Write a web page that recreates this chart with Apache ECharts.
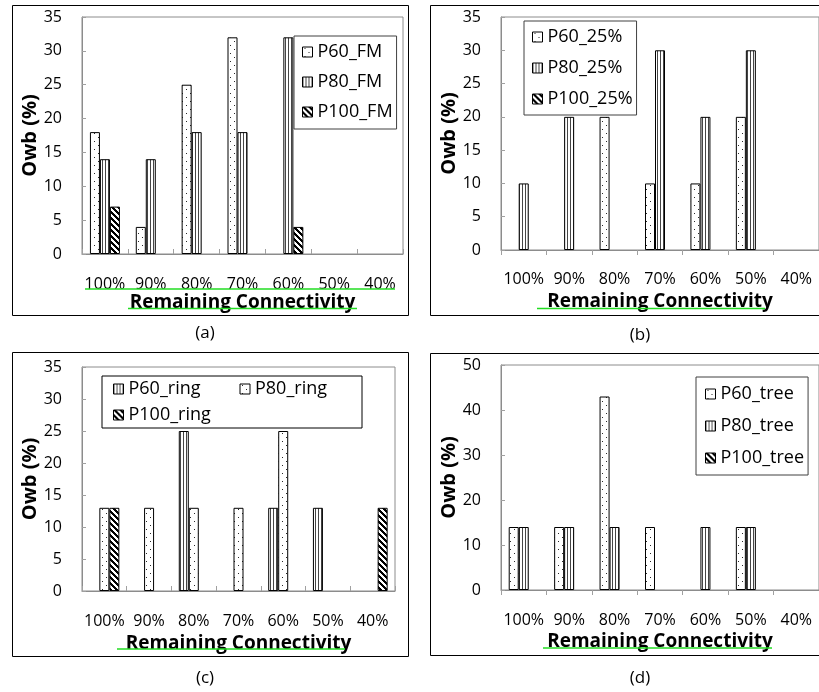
<!DOCTYPE html>
<html><head><meta charset="utf-8">
<script src="https://cdn.jsdelivr.net/npm/echarts@6/dist/echarts.min.js"></script>
<style>html,body{margin:0;padding:0;background:#fff}#c{width:819px;height:692px}</style>
</head><body><div id="c"></div>
<script>
// ---- data ----
const categories = ['100%', '90%', '80%', '70%', '60%', '50%', '40%'];

const namesA = ['P60_FM', 'P80_FM', 'P100_FM'];
const p60FM  = [18, 4, 25, 32, 0, 0, 0];
const p80FM  = [14, 14, 18, 18, 32, 0, 0];
const p100FM = [7, 0, 0, 0, 4, 0, 0];

const namesB = ['P60_25%', 'P80_25%', 'P100_25%'];
const p60_25  = [0, 0, 20, 10, 10, 20, 0];
const p80_25  = [10, 20, 0, 30, 20, 30, 0];
const p100_25 = [0, 0, 0, 0, 0, 0, 0];

const namesC = ['P60_ring', 'P80_ring', 'P100_ring'];
const p60Ring  = [0, 0, 25, 0, 13, 13, 0];
const p80Ring  = [13, 13, 13, 13, 25, 0, 0];
const p100Ring = [13, 0, 0, 0, 0, 0, 13];

const namesD = ['P60_tree', 'P80_tree', 'P100_tree'];
const p60Tree  = [14, 14, 43, 14, 0, 14, 0];
const p80Tree  = [14, 14, 14, 0, 14, 14, 0];
const p100Tree = [0, 0, 0, 0, 0, 0, 0];

const yTicksABC = { min: 0, max: 35, interval: 5 };
const yTicksD = { min: 0, max: 50, interval: 10 };
const captions = ['(a)', '(b)', '(c)', '(d)'];
const xTitle = 'Remaining Connectivity';
const yTitle = 'Owb (%)';

// ---- patterns ----
function makePattern(w, h, fn) {
  const cv = document.createElement('canvas');
  cv.width = w; cv.height = h;
  const ctx = cv.getContext('2d');
  const img = ctx.createImageData(w, h);
  for (let y = 0; y < h; y++) for (let x = 0; x < w; x++) {
    const v = fn(x, y);
    const i = (y * w + x) * 4;
    img.data[i] = v; img.data[i + 1] = v; img.data[i + 2] = v; img.data[i + 3] = 255;
  }
  ctx.putImageData(img, 0, 0);
  return { image: cv, repeat: 'repeat' };
}
const dots = makePattern(8, 8, (x, y) => ((x === 2 && y === 1) || (x === 6 && y === 5)) ? 40 : 255);
const vlines = makePattern(3, 3, (x, y) => x === 0 ? 70 : 255);
const diag = makePattern(6, 6, (x, y) => { const d = ((x - y) % 6 + 6) % 6; return d < 3 ? 0 : 255; });

const FONT = 'Open Sans';

function bar(name, data, idx, color) {
  return {
    type: 'bar', name, data: data.map(v => v === 0 ? '-' : v), xAxisIndex: idx, yAxisIndex: idx,
    barWidth: 10, barGap: '0%',
    itemStyle: { color, borderColor: '#000', borderWidth: 1 },
    emphasis: { disabled: true }, animation: false
  };
}

const grids = [
  { left: 82, top: 17, width: 321, height: 237 },
  { left: 501, top: 17, width: 318.5, height: 233 },
  { left: 82, top: 367, width: 313, height: 224 },
  { left: 501, top: 365, width: 318.5, height: 225 }
].map(g => Object.assign(g, { show: true, borderColor: '#8c8c8c', borderWidth: 1, backgroundColor: 'transparent' }));

const xInside = [true, false, true, false];
const xLabelMargin = [22, 21, 22, 22];
const xNameGap = [39, 42, 43, 42];
const xAxes = grids.map((g, i) => ({
  type: 'category', gridIndex: i, data: categories,
  axisLine: { lineStyle: { color: '#8c8c8c', width: 1 } },
  axisTick: { show: true, inside: xInside[i], length: 5, lineStyle: { color: '#a0a0a0' } },
  axisLabel: { fontFamily: FONT, fontSize: 16, color: '#000', margin: xLabelMargin[i], interval: 0 },
  name: xTitle, nameLocation: 'middle', nameGap: xNameGap[i],
  nameTextStyle: { fontFamily: FONT, fontSize: 19, fontWeight: 'bold', color: '#000' },
  splitLine: { show: false }
}));
const yAxes = grids.map((g, i) => {
  const t = i === 3 ? yTicksD : yTicksABC;
  return {
    type: 'value', gridIndex: i, min: t.min, max: t.max, interval: t.interval,
    axisLine: { show: true, lineStyle: { color: '#8c8c8c', width: 1 } },
    axisTick: { show: true, inside: true, length: 4, lineStyle: { color: '#a0a0a0' } },
    axisLabel: { fontFamily: FONT, fontSize: 16, color: '#000', margin: 20 },
    splitLine: { show: false },
    name: yTitle, nameLocation: 'middle', nameGap: (i % 2 === 0) ? 38 : 41,
    nameTextStyle: { fontFamily: FONT, fontSize: 20, fontWeight: 'bold', color: '#000' }
  };
});

const series = [
  bar(namesA[0], p60FM, 0, dots), bar(namesA[1], p80FM, 0, vlines), bar(namesA[2], p100FM, 0, diag),
  bar(namesB[0], p60_25, 1, dots), bar(namesB[1], p80_25, 1, vlines), bar(namesB[2], p100_25, 1, diag),
  bar(namesC[0], p60Ring, 2, vlines), bar(namesC[1], p80Ring, 2, dots), bar(namesC[2], p100Ring, 2, diag),
  bar(namesD[0], p60Tree, 3, dots), bar(namesD[1], p80Tree, 3, vlines), bar(namesD[2], p100Tree, 3, diag)
];

const legBase = {
  icon: 'rect', itemWidth: 10, itemHeight: 10, itemStyle: { borderWidth: 1, borderColor: '#000' }, selectedMode: false,
  backgroundColor: '#fff', borderColor: '#404040', borderWidth: 1,
  textStyle: { fontFamily: FONT, fontSize: 18, color: '#000', lineHeight: 20, padding: [0, 0, 0, 0] }
};
const legends = [
  Object.assign({}, legBase, { data: namesA, orient: 'vertical', left: 294, top: 36, itemGap: 10, itemWidth: 10, padding: [6, 4, 7, 8] }),
  Object.assign({}, legBase, { data: namesB, orient: 'vertical', left: 524, top: 21, itemGap: 11, padding: [6, 4, 6, 8] }),
  Object.assign({}, legBase, { data: namesC, orient: 'horizontal', left: 102, top: 376, width: 245, itemGap: 8,
    padding: [4, 4, 4, 11], borderColor: '#000',
    textStyle: { fontFamily: FONT, fontSize: 18, color: '#000', lineHeight: 16, width: 103 } }),
  Object.assign({}, legBase, { data: namesD, orient: 'vertical', left: 696, top: 377, itemGap: 12, padding: [7, 4, 7, 9] })
];

const frames = [
  [12.5, 5.5, 396, 310], [430.5, 5.5, 400, 310], [12.5, 352.5, 396, 304], [430.5, 353.5, 400, 302]
];
const graphic = [];
frames.forEach(f => graphic.push({ type: 'rect', shape: { x: f[0], y: f[1], width: f[2], height: f[3] },
  style: { fill: 'none', stroke: '#000', lineWidth: 1 }, silent: true, z: 100 }));
const capPos = [[205, 333], [640, 335], [205, 678], [640, 678]];
captions.forEach((c, i) => graphic.push({ type: 'text', x: capPos[i][0], y: capPos[i][1],
  style: { text: c, fontFamily: FONT, fontSize: 17, fill: '#000', align: 'center', verticalAlign: 'middle' }, silent: true }));
const greens = [[85, 289, 395], [128, 308.5, 357], [537, 308.5, 765], [117, 649, 345], [543, 648, 772]];
greens.forEach(g => graphic.push({ type: 'line', shape: { x1: g[0], y1: g[1], x2: g[2], y2: g[1] },
  style: { stroke: '#22dd22', lineWidth: 1.5 }, silent: true, z: 50 }));

const chart = echarts.init(document.getElementById('c'), null, { renderer: 'canvas' });
chart.setOption({
  animation: false, backgroundColor: '#fff',
  grid: grids, xAxis: xAxes, yAxis: yAxes, legend: legends, series, graphic
});
</script></body></html>
